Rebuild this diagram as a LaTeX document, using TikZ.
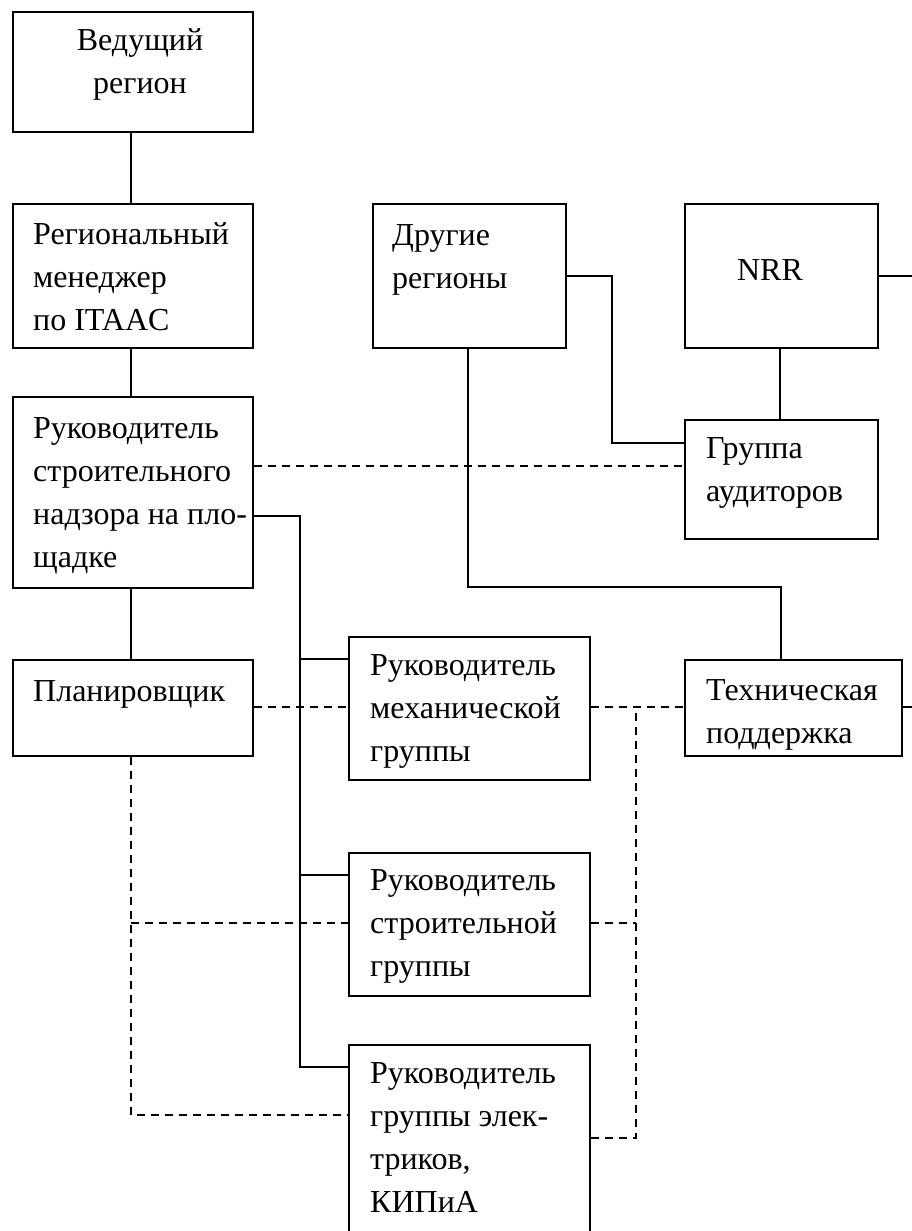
\documentclass[tikz,border=0pt]{standalone}
\usepackage{fontspec}
\setmainfont{Liberation Serif}
\begin{document}
\begin{tikzpicture}[x=1pt,y=-1pt,
  box/.style={draw, line width=2pt, inner sep=0pt, anchor=north west},
  txt/.style={anchor=north west, inner sep=0pt, align=left,
              font=\fontsize{32pt}{43pt}\selectfont},
  ctxt/.style={txt, anchor=north, align=center},
  wire/.style={line width=2pt},
  dwire/.style={line width=2pt, dash pattern=on 8pt off 6pt}]
\useasboundingbox (0,0) rectangle (912,1231);
\fill[white] (0,0) rectangle (912,1231);
\clip (0,0) rectangle (912,1231);

% boxes
\node[box, minimum width=240pt, minimum height=120pt] (lead)   at (12,11)   {};
\node[box, minimum width=240pt, minimum height=144pt] (regman) at (12,203)  {};
\node[box, minimum width=240pt, minimum height=191pt] (site)   at (12,396)  {};
\node[box, minimum width=240pt, minimum height=96pt]  (plan)   at (12,659)  {};
\node[box, minimum width=193pt, minimum height=144pt] (other)  at (372,203) {};
\node[box, minimum width=193pt, minimum height=144pt] (nrr)    at (684,203) {};
\node[box, minimum width=193pt, minimum height=119pt] (audit)  at (684,419) {};
\node[box, minimum width=217pt, minimum height=96pt]  (tech)   at (684,659) {};
\node[box, minimum width=241pt, minimum height=143pt] (mech)   at (348,636) {};
\node[box, minimum width=241pt, minimum height=143pt] (stroit) at (348,852) {};
\node[box, minimum width=241pt, minimum height=240pt] (elec)   at (348,1044) {};

% labels (strut puts the first baseline 30pt below the anchor)
\node[ctxt] (lead-t)   at (140,20)    {\strut Ведущий\\регион};
\node[txt]  (regman-t) at (33,214)    {\strut Региональный\\менеджер\\по ITAAC};
\node[txt]  (site-t)   at (33,408)    {\strut Руководитель\\строительного\\надзора на пло-\\щадке};
\node[txt]  (plan-t)   at (33,671)    {\strut Планировщик};
\node[txt]  (other-t)  at (392,215)   {\strut Другие\\регионы};
\node[ctxt] (nrr-t)    at (770,250)   {\strut NRR};
\node[txt]  (audit-t)  at (706,428)   {\strut Группа\\аудиторов};
\node[txt]  (tech-t)   at (706,670)   {\strut Техническая\\поддержка};
\node[txt]  (mech-t)   at (370,645)   {\strut Руководитель\\механической\\группы};
\node[txt]  (stroit-t) at (370,860)   {\strut Руководитель\\строительной\\группы};
\node[txt]  (elec-t)   at (370,1053)  {\strut Руководитель\\группы элек-\\триков,\\КИПиА};

% solid links
\draw[wire] (lead.south -| 131,0) -- (regman.north -| 131,0);
\draw[wire] (regman.south -| 131,0) -- (site.north -| 131,0);
\draw[wire] (site.south -| 131,0) -- (plan.north -| 131,0);
\draw[wire] (nrr.south -| 780,0) -- (audit.north -| 780,0);
\draw[wire] (nrr.east |- 0,276) -- (912,276);
\draw[wire] (tech.east |- 0,707) -- (912,707);
\draw[wire] (other.east |- 0,276) -| (612,443) -- (audit.west |- 0,443);
\draw[wire] (other.south -| 468,0) |- (781,587) -- (tech.north -| 781,0);

% site supervisor to the three group leads
\coordinate (bus) at (300,516);
\draw[wire] (site.east |- bus) -- (bus) |- (elec.west |- 0,1067);
\draw[wire] (bus |- 0,659) -- (mech.west |- 0,659);
\draw[wire] (bus |- 0,875) -- (stroit.west |- 0,875);

% dashed links
\draw[dwire] (site.east |- 0,466) -- (audit.west |- 0,466);
\draw[dwire] (plan.east |- 0,707) -- (mech.west |- 0,707);
\draw[dwire] (mech.east |- 0,707) -- (tech.west |- 0,707);
\draw[dwire] (elec.east |- 0,1138) -- (636,1138) -- (636,707);
\draw[dwire] (stroit.east |- 0,923) -- (636,923);
\draw[dwire] (plan.south -| 131,0) -- (131,1115) -- (elec.west |- 0,1115);
\draw[dwire] (131,923) -- (stroit.west |- 0,923);
\end{tikzpicture}
\end{document}
